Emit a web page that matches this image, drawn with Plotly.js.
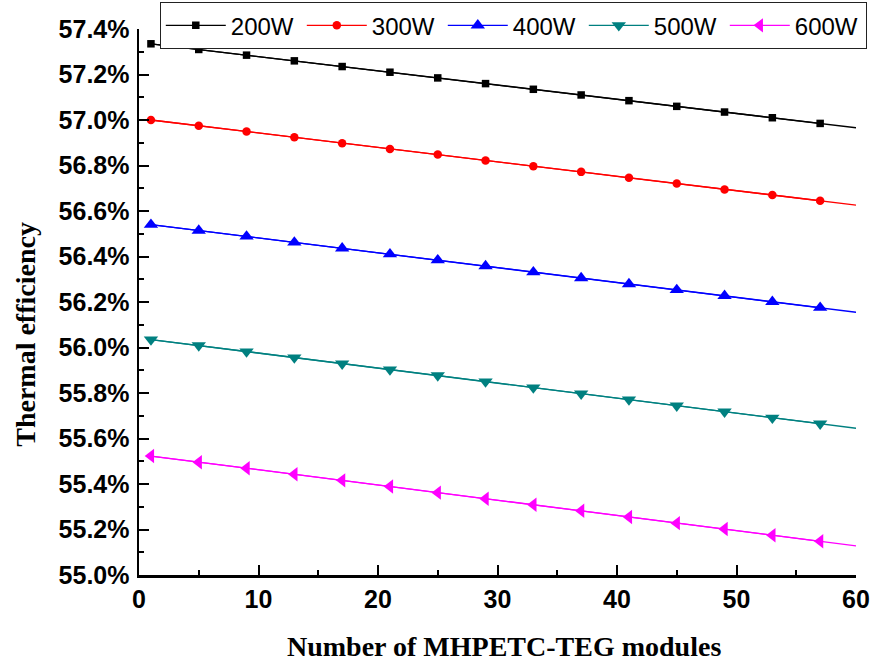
<!DOCTYPE html>
<html>
<head>
<meta charset="utf-8">
<script src="https://cdn.plot.ly/plotly-3.0.1.min.js"></script>
<style>
  html, body { margin: 0; padding: 0; background: #ffffff; }
  #chart { width: 873px; height: 666px; }
</style>
</head>
<body>
<div id="chart"></div>
<script>
// Number of MHPETC-TEG modules at which efficiency was evaluated
const modules = [1, 5, 9, 13, 17, 21, 25, 29, 33, 37, 41, 45, 49, 53, 57];

// Thermal efficiency (%) for each heat input
const eff200 = [57.335, 57.310, 57.285, 57.260, 57.235, 57.210, 57.185, 57.160, 57.135, 57.110, 57.085, 57.060, 57.035, 57.010, 56.985];
const eff300 = [57.000, 56.975, 56.949, 56.924, 56.898, 56.873, 56.848, 56.822, 56.797, 56.772, 56.746, 56.721, 56.695, 56.670, 56.645];
const eff400 = [56.540, 56.514, 56.488, 56.462, 56.436, 56.410, 56.384, 56.358, 56.331, 56.305, 56.279, 56.253, 56.227, 56.201, 56.175];
const eff500 = [56.035, 56.009, 55.982, 55.956, 55.929, 55.903, 55.877, 55.850, 55.824, 55.797, 55.771, 55.744, 55.718, 55.691, 55.665];
const eff600 = [55.523, 55.496, 55.469, 55.443, 55.416, 55.389, 55.362, 55.335, 55.309, 55.282, 55.255, 55.228, 55.202, 55.175, 55.148];

// Linear trend lines, drawn from the first module count to 60
const trendX = [1, 60];
const trend200 = [57.335, 56.966];
const trend300 = [57.000, 56.626];
const trend400 = [56.540, 56.155];
const trend500 = [56.035, 55.645];
const trend600 = [55.523, 55.128];

const seriesNames = ['200W', '300W', '400W', '500W', '600W'];

const styles = [
  { color: '#000000', symbol: 'square', size: 7.5 },
  { color: '#ff0000', symbol: 'circle', size: 8.5 },
  { color: '#0000ff', symbol: 'triangle-up', size: 12.5 },
  { color: '#008080', symbol: 'triangle-down', size: 12.5 },
  { color: '#ff00ff', symbol: 'triangle-left', size: 12.5 }
];

const values = [eff200, eff300, eff400, eff500, eff600];
const trends = [trend200, trend300, trend400, trend500, trend600];

const traces = [];
seriesNames.forEach((name, i) => {
  const s = styles[i];
  traces.push({
    x: trendX, y: trends[i], type: 'scatter', mode: 'lines',
    line: { color: s.color, width: 1.3 },
    showlegend: false, hoverinfo: 'skip'
  });
});
seriesNames.forEach((name, i) => {
  const s = styles[i];
  traces.push({
    x: modules, y: values[i], type: 'scatter', mode: 'lines+markers', name: name,
    line: { color: s.color, width: 1.3 },
    marker: { color: s.color, symbol: s.symbol, size: s.size, line: { width: 0 } }
  });
});

const tickFont = { family: 'Liberation Sans, Arial, sans-serif', size: 25, color: '#000000', weight: 'bold' };
const titleFont = { family: 'Liberation Serif, Times New Roman, serif', size: 28, color: '#000000', weight: 'bold' };

const layout = {
  width: 873,
  height: 666,
  margin: { l: 139, r: 17, t: 29, b: 90.5, autoexpand: false },
  paper_bgcolor: '#ffffff',
  plot_bgcolor: '#ffffff',
  showlegend: true,
  legend: {
    orientation: 'h',
    x: 0.029, xanchor: 'left',
    y: 1.049, yanchor: 'top',
    bgcolor: '#ffffff',
    bordercolor: '#222222',
    borderwidth: 1,
    itemwidth: 60,
    entrywidth: 66,
    entrywidthmode: 'pixels',
    font: { family: 'Liberation Sans, Arial, sans-serif', size: 24, color: '#000000' },
    traceorder: 'normal'
  },
  xaxis: {
    range: [0, 60],
    dtick: 10,
    tick0: 0,
    showgrid: false,
    zeroline: false,
    showline: true,
    linecolor: '#000000',
    linewidth: 2.5,
    ticks: 'inside',
    ticklen: 10,
    tickwidth: 2,
    tickcolor: '#000000',
    minor: { dtick: 5, ticks: 'inside', ticklen: 5, tickwidth: 2, tickcolor: '#000000' },
    tickfont: tickFont
  },
  yaxis: {
    range: [55.0, 57.4],
    dtick: 0.2,
    tick0: 55.0,
    tickformat: '.1f',
    ticksuffix: '%',
    showgrid: false,
    zeroline: false,
    showline: true,
    linecolor: '#000000',
    linewidth: 2.5,
    ticks: 'inside',
    ticklen: 10,
    tickwidth: 2,
    tickcolor: '#000000',
    minor: { dtick: 0.1, ticks: 'inside', ticklen: 5, tickwidth: 2, tickcolor: '#000000' },
    tickfont: tickFont,
    ticklabelstandoff: 2
  },
  annotations: [
    {
      text: 'Number of MHPETC-TEG modules',
      xref: 'paper', yref: 'paper', x: 0.5084, y: -0.1308,
      xanchor: 'center', yanchor: 'middle', showarrow: false,
      font: titleFont
    },
    {
      text: 'Thermal efficiency',
      xref: 'paper', yref: 'paper', x: -0.1576, y: 0.44,
      xanchor: 'center', yanchor: 'middle', showarrow: false,
      textangle: -90,
      font: titleFont
    }
  ]
};

Plotly.newPlot('chart', traces, layout, { displayModeBar: false, staticPlot: true });
</script>
</body>
</html>
